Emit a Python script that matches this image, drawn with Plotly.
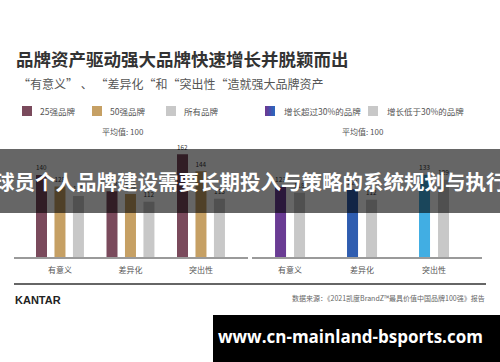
import plotly.graph_objects as go

W, H = 500, 362

# ---------------- data ----------------
categories = ["有意义", "差异化", "突出性"]

left_series = ["25强品牌", "50强品牌", "所有品牌"]
top25_values = [140, 123, 162]
top50_values = [128, 120, 144]
all_values = [118, 112, 115]

right_series = ["增长超过30%的品牌", "增长低于30%的品牌"]
high_growth_values = [123, 121, 133]
low_growth_values = [118, 112, 129]

title_text = "品牌资产驱动强大品牌快速增长并脱颖而出"
subtitle_text = "“有意义” 、 “差异化“和“突出性“造就强大品牌资产"
avg_text = "平均值: 100"
banner_text = "球员个人品牌建设需要长期投入与策略的系统规划与执行"
url_text = "www.cn-mainland-bsports.com"
source_text = "数据来源：《2021凯度BrandZ™最具价值中国品牌100强》报告"
brand_text = "KANTAR"

# ---------------- styling ----------------
FONT = "Noto Sans CJK SC"
c_maroon = "#7a4a5c"
c_tan = "#c6a064"
c_gray = "#c8c8c8"
c_high = ["#6a3c94", "#2f5db0", "#41aee3"]


def px(x):
    return x / W


def py(y):
    return 1 - y / H


fig = go.Figure()

label_font = dict(family=FONT, size=8, color="#333333")

# left panel bars
for name, vals, col, off in [
    (left_series[0], top25_values, c_maroon, -0.34),
    (left_series[1], top50_values, c_tan, -0.078),
    (left_series[2], all_values, c_gray, 0.184),
]:
    fig.add_trace(go.Bar(
        x=categories, y=vals, name=name, marker_color=col,
        width=0.156, offset=off, text=vals, textposition="outside",
        textfont=label_font, cliponaxis=False, xaxis="x", yaxis="y",
        showlegend=False, marker_line_width=0,
    ))

# right panel bars
for name, vals, col, off in [
    (right_series[0], high_growth_values, c_high, -0.208),
    (right_series[1], low_growth_values, c_gray, 0.056),
]:
    fig.add_trace(go.Bar(
        x=categories, y=vals, name=name, marker_color=col,
        width=0.153, offset=off, text=vals, textposition="outside",
        textfont=label_font, cliponaxis=False, xaxis="x2", yaxis="y2",
        showlegend=False, marker_line_width=0,
    ))

y_dom = [py(257), py(140)]
axis_common = dict(type="category", showgrid=False, zeroline=False,
                   showline=True, linecolor="#9a9a9a", linewidth=1.5,
                   ticks="outside", ticklen=5, tickcolor="rgba(0,0,0,0)",
                   tickfont=dict(family=FONT, size=8, color="#555555"),
                   automargin=False, fixedrange=True)

fig.update_layout(
    width=W, height=H,
    margin=dict(l=0, r=0, t=0, b=0, pad=0, autoexpand=False),
    paper_bgcolor="white", plot_bgcolor="rgba(0,0,0,0)",
    barmode="overlay",
    font=dict(family=FONT),
    xaxis=dict(domain=[px(14), px(248)], range=[-0.652, 2.667], anchor="y", **axis_common),
    yaxis=dict(domain=y_dom, range=[53.7, 176.9], visible=False, anchor="x", automargin=False),
    xaxis2=dict(domain=[px(252), px(482)], range=[-0.528, 2.667], anchor="y2", **axis_common),
    yaxis2=dict(domain=y_dom, range=[64, 162.3], visible=False, anchor="x2", automargin=False),
)

shapes = []
annotations = []

# title & subtitle
annotations.append(dict(text="<b>" + title_text + "</b>", x=px(14), y=py(59), xref="paper", yref="paper",
                        xanchor="left", yanchor="middle", showarrow=False,
                        font=dict(family=FONT, size=17.5, color="#333333")))
annotations.append(dict(text=subtitle_text, x=px(16), y=py(84), xref="paper", yref="paper",
                        xanchor="left", yanchor="middle", showarrow=False,
                        font=dict(family=FONT, size=12, color="#555555")))

# legend swatches + labels (left)
legend_font = dict(family=FONT, size=8.5, color="#555555")
for x0, col, label in [(22, c_maroon, left_series[0]), (92, c_tan, left_series[1]), (166, c_gray, left_series[2])]:
    shapes.append(dict(type="rect", xref="paper", yref="paper", x0=px(x0), x1=px(x0 + 10),
                       y0=py(116), y1=py(106), fillcolor=col, line_width=0))
    annotations.append(dict(text=label, x=px(x0 + 16), y=py(111), xref="paper", yref="paper",
                            xanchor="left", yanchor="middle", showarrow=False, font=legend_font))

# right legend: gradient swatch
grad = ["#6a3c94", "#5a44a0", "#4a4eac", "#3a5ab4", "#2f64bc"]
for i, col in enumerate(grad):
    shapes.append(dict(type="rect", xref="paper", yref="paper", x0=px(265 + i * 2), x1=px(265 + (i + 1) * 2),
                       y0=py(116), y1=py(106), fillcolor=col, line_width=0))
annotations.append(dict(text=right_series[0], x=px(282), y=py(111), xref="paper", yref="paper",
                        xanchor="left", yanchor="middle", showarrow=False, font=legend_font))
shapes.append(dict(type="rect", xref="paper", yref="paper", x0=px(368), x1=px(378),
                   y0=py(116), y1=py(106), fillcolor=c_gray, line_width=0))
annotations.append(dict(text=right_series[1], x=px(385), y=py(111), xref="paper", yref="paper",
                        xanchor="left", yanchor="middle", showarrow=False, font=legend_font))

# average labels
for cx in (123, 363):
    annotations.append(dict(text=avg_text, x=px(cx), y=py(132), xref="paper", yref="paper",
                            xanchor="center", yanchor="middle", showarrow=False,
                            font=dict(family=FONT, size=8, color="#555555")))

# bottom separator
shapes.append(dict(type="line", xref="paper", yref="paper", x0=px(14), x1=px(486),
                   y0=py(284), y1=py(284), line=dict(color="#666666", width=2)))

annotations.append(dict(text="<b>" + brand_text + "</b>", x=px(13), y=py(300), xref="paper", yref="paper",
                        xanchor="left", yanchor="middle", showarrow=False,
                        font=dict(family="Liberation Sans", size=11, color="#222222")))
annotations.append(dict(text=source_text, x=px(487), y=py(298), xref="paper", yref="paper",
                        xanchor="right", yanchor="middle", showarrow=False,
                        font=dict(family=FONT, size=7, color="#666666")))

# overlay banner
shapes.append(dict(type="rect", xref="paper", yref="paper", x0=0, x1=1,
                   y0=py(213), y1=py(149), fillcolor="rgba(0,0,0,0.6)", line_width=0, layer="above"))
annotations.append(dict(text="<b>" + banner_text + "</b>", x=0.5, y=py(181), xref="paper", yref="paper",
                        xanchor="center", yanchor="middle", showarrow=False,
                        font=dict(family=FONT, size=20.5, color="white")))

# bottom black url box
shapes.append(dict(type="rect", xref="paper", yref="paper", x0=px(213), x1=1,
                   y0=0, y1=py(315), fillcolor="black", line_width=0, layer="above"))
annotations.append(dict(text="<b>" + url_text + "</b>", x=px(350), y=py(336), xref="paper", yref="paper",
                        xanchor="center", yanchor="middle", showarrow=False,
                        font=dict(family="Open Sans", size=17, color="white")))

fig.update_layout(shapes=shapes, annotations=annotations)

fig.write_html("out.html", config={"displayModeBar": False},
               post_script="document.body.style.margin='0';document.body.style.overflow='hidden';")
